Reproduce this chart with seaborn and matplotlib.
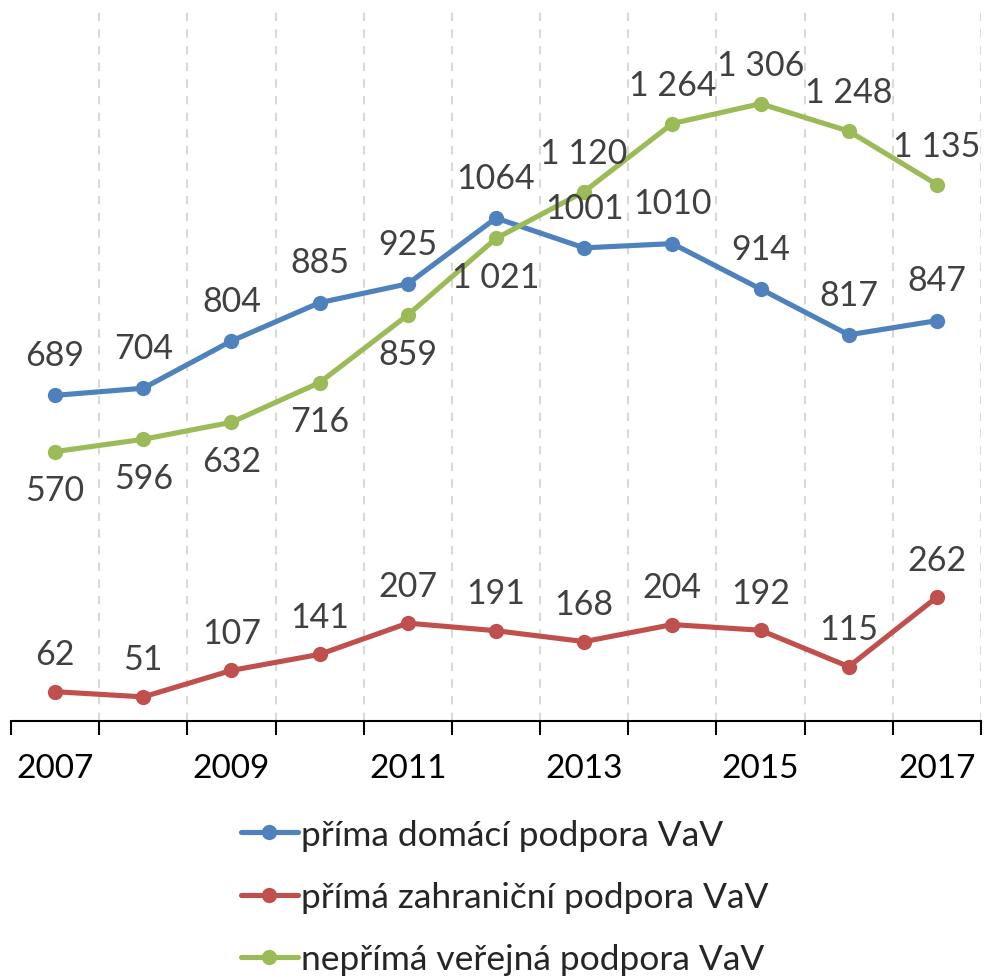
import numpy as np
import pandas as pd
import matplotlib.pyplot as plt
import seaborn as sns

# Data
years = list(range(2007, 2018))
domestic = [689, 704, 804, 885, 925, 1064, 1001, 1010, 914, 817, 847]
foreign = [62, 51, 107, 141, 207, 191, 168, 204, 192, 115, 262]
indirect = [570, 596, 632, 716, 859, 1021, 1120, 1264, 1306, 1248, 1135]

series_names = ["příma domácí podpora VaV",
                "přímá zahraniční podpora VaV",
                "nepřímá veřejná podpora VaV"]
series_colors = ["#4F81BD", "#C0504D", "#9BBB59"]
# label placement (+1 above, -1 below) for each point
green_side = [-1, -1, -1, -1, -1, -1, 1, 1, 1, 1, 1]

df = pd.DataFrame({
    "year": years * 3,
    "value": domestic + foreign + indirect,
    "series": [series_names[0]] * 11 + [series_names[1]] * 11 + [series_names[2]] * 11,
})

sns.set_style("white")
plt.rcParams["font.family"] = ["Lato", "DejaVu Sans"]

fig = plt.figure(figsize=(10.02, 9.78), dpi=100)
ax = fig.add_axes([11 / 1002, (978 - 722) / 978, 970 / 1002, 709 / 978])

sns.lineplot(data=df, x="year", y="value", hue="series", palette=series_colors,
             marker="o", markersize=11, markeredgewidth=0, linewidth=3.7,
             ax=ax, legend=True)


def fmt_space(v):
    return f"{v:,}".replace(",", " ")


label_kw = dict(ha="center", va="center", fontsize=24.5, color="#404040")
for x, v in zip(years, domestic):
    ax.annotate(str(v), (x, v), xytext=(0, 29), textcoords="offset points", **label_kw)
for x, v in zip(years, foreign):
    ax.annotate(str(v), (x, v), xytext=(0, 27), textcoords="offset points", **label_kw)
for x, v, s in zip(years, indirect, green_side):
    ax.annotate(fmt_space(v), (x, v), xytext=(0, 28 * s), textcoords="offset points", **label_kw)

ax.set_xlim(2006.5, 2017.5)
ax.set_ylim(0, 1500)
ax.set_yticks([])
ax.set_xlabel("")
ax.set_ylabel("")

# category boundaries as major ticks / grid, labels on every other year
ax.set_xticks(np.arange(2006.5, 2018, 1.0))
ax.set_xticklabels([])
ax.set_xticks(years[::2], minor=True)
ax.set_xticklabels([str(y) for y in years[::2]], minor=True, fontsize=24)
ax.tick_params(axis="x", which="major", length=10, width=1.5, color="black", direction="out", bottom=True)
ax.tick_params(axis="x", which="minor", length=0, pad=23, labelcolor="black")
ax.grid(axis="x", which="major", color="#D9D9D9", linestyle=(0, (4, 4)), linewidth=1.5)
ax.xaxis.get_gridlines()[0].set_visible(False)

for side in ["top", "left", "right"]:
    ax.spines[side].set_visible(False)
ax.spines["bottom"].set_color("black")
ax.spines["bottom"].set_linewidth(1.5)

leg = ax.legend(loc="upper center", bbox_to_anchor=(505 / 1002, 1 - 788 / 978),
                bbox_transform=fig.transFigure, frameon=False, fontsize=25.5,
                handlelength=1.6, handletextpad=0.1, labelspacing=0.85)

fig.savefig("out.png", dpi=100)
